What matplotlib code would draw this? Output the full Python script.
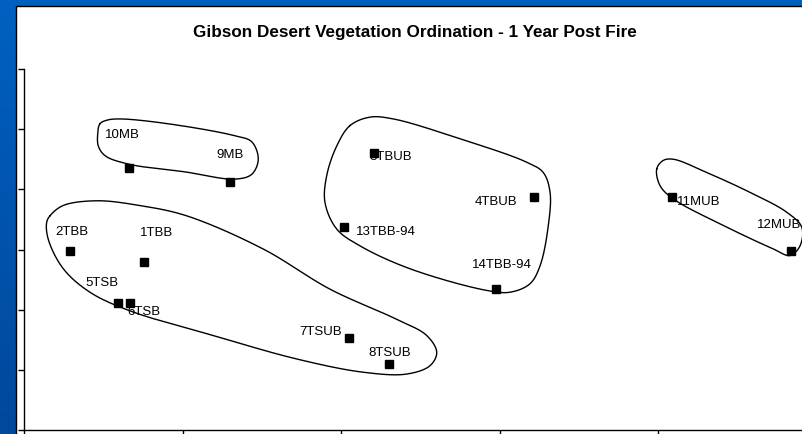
import numpy as np
import matplotlib.pyplot as plt
from matplotlib.patches import Rectangle
from matplotlib.colors import LinearSegmentedColormap

plt.rcParams['font.family'] = ['Liberation Sans', 'DejaVu Sans']

# Ordination scores
sites = ['10MB', '9MB', '2TBB', '1TBB', '5TSB', '6TSB', '7TSUB', '8TSUB',
         '3TBUB', '4TBUB', '13TBB-94', '14TBB-94', '11MUB', '12MUB']
axis1 = [0.66, 1.30, 0.29, 0.76, 0.59, 0.67, 2.05, 2.30,
         2.21, 3.22, 2.02, 2.98, 4.09, 4.84]
axis2 = [4.35, 4.13, 2.98, 2.80, 2.11, 2.11, 1.53, 1.10,
         4.61, 3.88, 3.37, 2.34, 3.88, 2.97]

# Hand-drawn group outlines (ordination units)
mb_x = [0.479, 0.524, 0.606, 0.909, 1.331, 1.437, 1.478, 1.437, 1.331, 1.016, 0.658, 0.511, 0.469, 0.465]
mb_y = [5.09, 5.15, 5.17, 5.09, 4.89, 4.79, 4.50, 4.25, 4.17, 4.29, 4.42, 4.56, 4.72, 4.92]
tb_x = [0.164, 0.246, 0.459, 0.732, 1.026, 1.508, 1.931, 2.351, 2.541, 2.604,
        2.562, 2.415, 2.141, 1.721, 1.194, 0.669, 0.416, 0.248, 0.153, 0.143]
tb_y = [3.56, 3.73, 3.81, 3.73, 3.56, 3.01, 2.34, 1.84, 1.57, 1.29,
        1.07, 0.93, 0.96, 1.18, 1.57, 1.98, 2.29, 2.68, 3.17, 3.45]
tbub_x = [2.057, 2.183, 2.330, 2.751, 3.172, 3.276, 3.319, 3.308, 3.256,
          3.192, 3.066, 2.919, 2.435, 2.120, 1.973, 1.899, 1.910, 1.973]
tbub_y = [5.06, 5.20, 5.17, 4.84, 4.45, 4.28, 3.95, 3.40, 2.73,
          2.43, 2.29, 2.32, 2.68, 3.06, 3.34, 3.78, 4.23, 4.72]
mub_x = [3.992, 4.033, 4.097, 4.307, 4.580, 4.812, 4.907, 4.896, 4.833,
         4.727, 4.412, 4.097, 4.013]
mub_y = [4.34, 4.48, 4.50, 4.28, 3.95, 3.62, 3.37, 3.06, 2.90,
         3.01, 3.40, 3.84, 4.06]

# label offsets in pixels (left edge, vertical centre)
label_offset = {
    '10MB': (-24, 34), '9MB': (-14, 28), '2TBB': (-15, 20), '1TBB': (-5, 30),
    '5TSB': (-32, 21), '6TSB': (-3, -8), '7TSUB': (-50, 7), '8TSUB': (-20, 12),
    '3TBUB': (-5, -3), '4TBUB': (-60, -4), '13TBB-94': (12, -4),
    '14TBB-94': (-24, 25), '11MUB': (5, -4), '12MUB': (-34, 27),
}


def closed_spline(xs, ys, n=30, alpha=0.5):
    # centripetal Catmull-Rom through the outline vertices, wrapped round
    # (distances measured on screen scale: 1 x unit ~ 158 px, 1 y unit ~ 60 px)
    p = np.column_stack([xs, ys]).astype(float)
    scale = np.array([158.5, 60.17])
    m = len(p)
    out = []
    for i in range(m):
        P = [p[(i - 1) % m], p[i], p[(i + 1) % m], p[(i + 2) % m]]
        t = [0.0]
        for k in range(3):
            d = np.linalg.norm((P[k + 1] - P[k]) * scale)
            t.append(t[-1] + max(d, 1e-6) ** alpha)
        tt = np.linspace(t[1], t[2], n, endpoint=False)[:, None]
        A1 = (t[1] - tt) / (t[1] - t[0]) * P[0] + (tt - t[0]) / (t[1] - t[0]) * P[1]
        A2 = (t[2] - tt) / (t[2] - t[1]) * P[1] + (tt - t[1]) / (t[2] - t[1]) * P[2]
        A3 = (t[3] - tt) / (t[3] - t[2]) * P[2] + (tt - t[2]) / (t[3] - t[2]) * P[3]
        B1 = (t[2] - tt) / (t[2] - t[0]) * A1 + (tt - t[0]) / (t[2] - t[0]) * A2
        B2 = (t[3] - tt) / (t[3] - t[1]) * A2 + (tt - t[1]) / (t[3] - t[1]) * A3
        C = (t[2] - tt) / (t[2] - t[1]) * B1 + (tt - t[1]) / (t[2] - t[1]) * B2
        out.append(C)
    out = np.vstack(out + [out[0][:1]])
    return out[:, 0], out[:, 1]


fig = plt.figure(figsize=(8.02, 4.35), dpi=100)

# blue slide frame
bg = fig.add_axes([0, 0, 1, 1])
blue = LinearSegmentedColormap.from_list('slide', ['#00489c', '#0060c0'])
bg.imshow(np.linspace(0, 1, 100)[:, None], aspect='auto', cmap=blue,
          extent=[0, 1, 0, 1], origin='lower')
bg.add_patch(Rectangle((15.5 / 802, -0.02), 1.0, (428.5 / 435) + 0.02,
                       transform=bg.transAxes, facecolor='white',
                       edgecolor='black', linewidth=1.0))
bg.set_xlim(0, 1)
bg.set_ylim(0, 1)
bg.axis('off')

ax = fig.add_axes([24 / 802, 4 / 435, 792.5 / 802, 361 / 435])
ax.patch.set_visible(False)

for ox, oy in [(mb_x, mb_y), (tb_x, tb_y), (tbub_x, tbub_y), (mub_x, mub_y)]:
    cx, cy = closed_spline(ox, oy)
    ax.plot(cx, cy, color='black', linewidth=1.0)

ax.plot(axis1, axis2, linestyle='none', marker='s', markersize=6,
        color='black', zorder=3)

for name, x, y in zip(sites, axis1, axis2):
    dx, dy = label_offset[name]
    ax.annotate(name, (x, y), xytext=(dx, dy), textcoords='offset pixels',
                ha='left', va='center', fontsize=9.5, color='black')

ax.set_xlim(0, 5)
ax.set_ylim(0, 6)
ax.set_xticks(np.arange(0, 6))
ax.set_yticks(np.arange(0, 7))
ax.set_xticklabels([])
ax.set_yticklabels([])
ax.tick_params(direction='out', length=4, width=1.0)
ax.spines['top'].set_visible(False)
ax.spines['right'].set_visible(False)
for s in ['left', 'bottom']:
    ax.spines[s].set_linewidth(1.0)

fig.text(415 / 802, 1 - 32 / 435, 'Gibson Desert Vegetation Ordination - 1 Year Post Fire',
         ha='center', va='center', fontsize=12.3, fontweight='bold')

fig.savefig('out.png', dpi=100)
